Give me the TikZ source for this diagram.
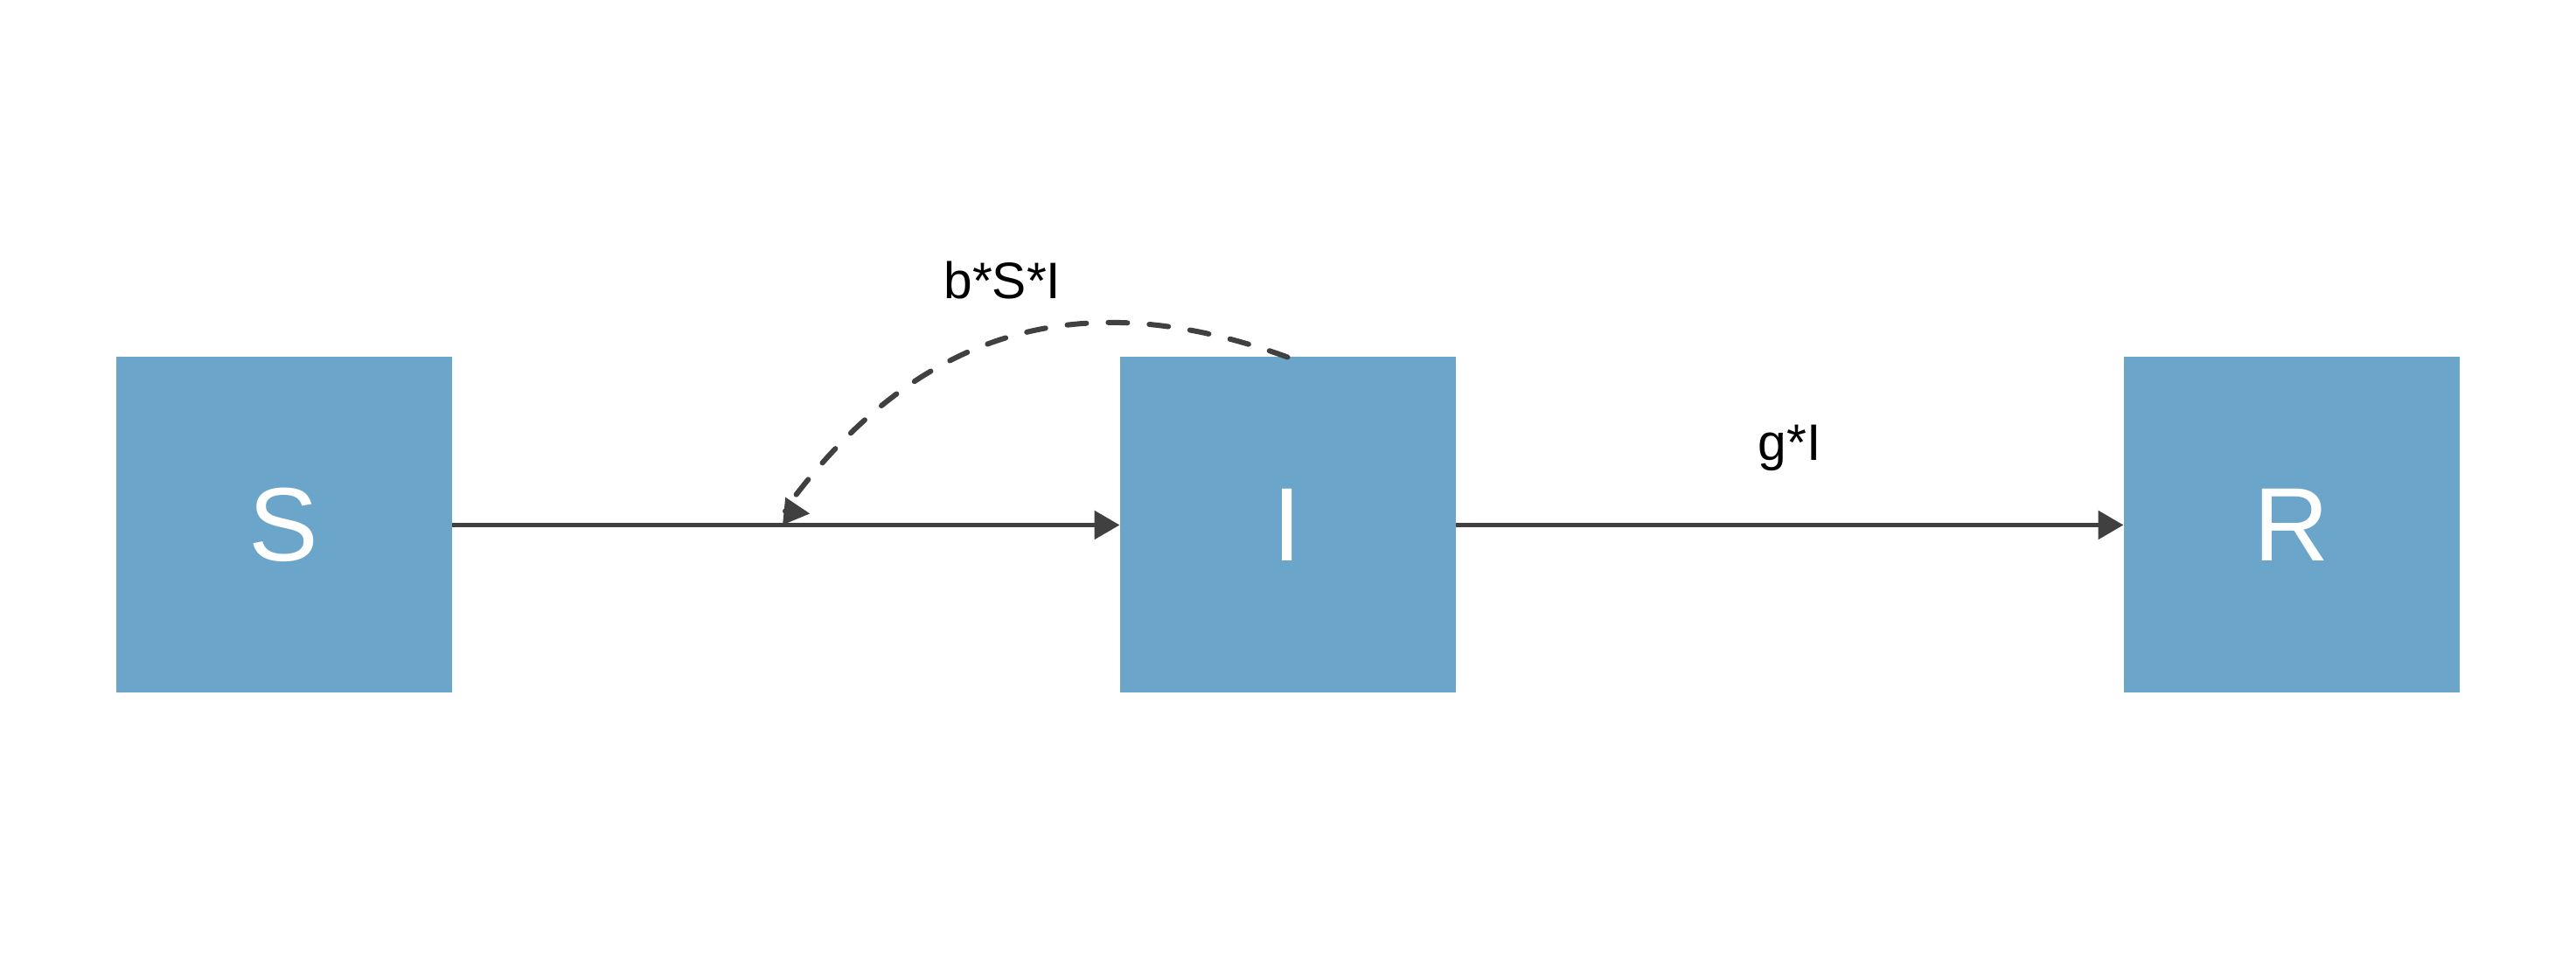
\documentclass[tikz,border=0pt]{standalone}
\usepackage{fontspec}
\setmainfont{Liberation Sans}
\usetikzlibrary{arrows.meta,positioning}
\definecolor{boxblue}{HTML}{6BA5C9}
\definecolor{arrowgray}{HTML}{404040}

\begin{document}
\begin{tikzpicture}[
  node distance=7.64cm,
  comp/.style={fill=boxblue,minimum size=3.84cm,inner sep=0pt,outer sep=0pt,text=white,font=\fontsize{34pt}{40pt}\selectfont},
  lbl/.style={font=\fontsize{16.7pt}{20pt}\selectfont,text=black,inner sep=0pt},
  flow/.style={-{Triangle[length=0.29cm,width=0.32cm]},line width=0.057cm,arrowgray},
  infl/.style={-{Triangle[length=0.3cm,width=0.3cm]},line width=0.06cm,arrowgray,dash pattern=on 0.22cm off 0.25cm,line cap=round}
]
  \useasboundingbox (0,0) rectangle (29.46,11.06);
  % compartments
  \node[comp] (S) at (3.245,5.055) {S};
  \node[comp,right=of S] (I) {I};
  \node[comp,right=of I] (R) {R};
  % flows
  \draw[flow] (S) -- coordinate (mid) (I);
  \draw[flow] (I) -- node[lbl,anchor=base,yshift=0.74cm] (gi) {g*I} (R);
  % influence of I on the infection flow
  \coordinate (hd) at ([shift={(-0.02,0.16)}]mid);
  \coordinate (tip) at ([shift={(0.28,0.13)}]mid);
  \draw[infl] (I.north) .. controls +(160:2.35) and +(54:2.75) .. (hd)
    node[lbl,pos=0.5,anchor=base,xshift=-0.16cm,yshift=0.41cm] (bsi) {b*S*I} -- (tip);
\end{tikzpicture}
\end{document}
